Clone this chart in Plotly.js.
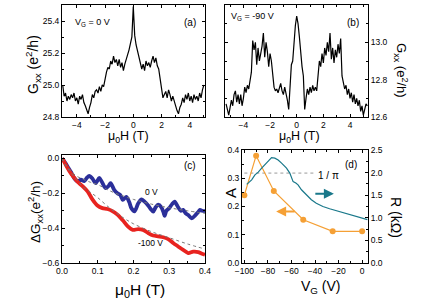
<!DOCTYPE html>
<html><head><meta charset="utf-8">
<script src="https://cdn.plot.ly/plotly-3.0.1.min.js"></script>
<style>html,body{margin:0;padding:0;background:#fff}#c{width:436px;height:300px}</style>
</head><body><div id="c"></div>
<script>
// Panel (a): Gxx vs mu0H at VG = 0 V
const hA = [-5.0,-4.9,-4.8,-4.7,-4.6,-4.5,-4.4,-4.3,-4.2,-4.1,-4.0,-3.9,-3.8,-3.7,-3.6,-3.5,-3.4,-3.3,-3.2,-3.1,-3.0,-2.9,-2.8,-2.7,-2.6,-2.5,-2.4,-2.3,-2.2,-2.1,-2.0,-1.9,-1.8,-1.7,-1.6,-1.5,-1.4,-1.3,-1.2,-1.1,-1.0,-0.9,-0.8,-0.7,-0.6,-0.5,-0.4,-0.3,-0.2,-0.1,0.0,
  0.1,0.2,0.3,0.4,0.5,0.6,0.7,0.8,0.9,1.0,1.1,1.2,1.3,1.4,1.5,1.6,1.7,1.8,1.9,2.0,2.1,2.2,2.3,2.4,2.5,2.6,2.7,2.8,2.9,3.0,3.1,3.2,3.3,3.4,3.5,3.6,3.7,3.8,3.9,4.0,4.1,4.2,4.3,4.4,4.5,4.6,4.7,4.8,4.9,5.0];
const gA = [25.00,24.93,24.95,24.90,24.93,24.91,24.94,24.92,24.95,24.90,24.92,24.88,24.93,24.91,24.94,24.89,24.87,24.85,24.82,24.86,24.89,24.94,24.92,24.96,24.97,24.95,24.99,24.96,25.00,24.99,25.05,25.08,25.11,25.10,25.15,25.13,25.18,25.14,25.16,25.12,25.16,25.11,25.14,25.09,25.13,25.17,25.19,25.22,25.26,25.30,25.49,
  25.31,25.25,25.21,25.18,25.14,25.10,25.13,25.09,25.15,25.12,25.14,25.11,25.15,25.18,25.14,25.17,25.12,25.10,25.04,24.98,24.92,24.94,24.96,24.92,24.97,24.94,24.90,24.93,24.89,24.87,24.84,24.82,24.86,24.88,24.92,24.89,24.94,24.91,24.95,24.90,24.93,24.89,24.94,24.91,24.93,24.90,24.95,24.92,24.97,25.00];

// Panel (b): Gxx vs mu0H at VG = -90 V
const hB = [-5.3,-5.2,-5.1,-5.0,-4.9,-4.8,-4.7,-4.6,-4.5,-4.4,-4.3,-4.2,-4.1,-4.0,-3.9,-3.8,-3.7,-3.6,-3.5,-3.4,-3.3,-3.2,-3.1,-3.0,-2.9,-2.8,-2.7,-2.6,-2.5,-2.4,-2.3,-2.2,-2.1,-2.0,-1.9,-1.8,-1.7,-1.6,-1.5,-1.4,-1.3,-1.2,-1.1,-1.0,-0.9,-0.8,-0.7,-0.6,-0.5,-0.4,-0.3,-0.2,-0.1,0.0,
  0.1,0.2,0.3,0.4,0.5,0.6,0.7,0.8,0.9,1.0,1.1,1.2,1.3,1.4,1.5,1.6,1.7,1.8,1.9,2.0,2.1,2.2,2.3,2.4,2.5,2.6,2.7,2.8,2.9,3.0,3.1,3.2,3.3,3.4,3.5,3.6,3.7,3.8,3.9,4.0,4.1,4.2,4.3,4.4,4.5,4.6,4.7,4.8,4.9,5.0,5.1,5.2,5.3];
const gB = [12.67,12.63,12.61,12.65,12.69,12.66,12.72,12.74,12.68,12.72,12.67,12.72,12.66,12.70,12.76,12.73,12.77,12.75,12.80,12.84,13.01,12.96,13.00,12.88,12.97,12.90,12.94,12.98,13.05,12.92,13.00,12.95,12.87,12.94,12.90,12.84,12.76,12.74,12.75,12.73,12.76,12.78,12.74,12.72,12.76,12.73,12.69,12.64,12.80,12.88,12.90,13.02,13.09,13.14,
  13.10,13.03,12.92,12.87,12.82,12.64,12.70,12.75,12.72,12.76,12.73,12.77,12.74,12.76,12.74,12.82,12.90,12.87,12.94,12.89,12.97,12.93,13.00,12.95,13.05,12.91,12.97,12.89,12.96,12.92,12.99,12.94,13.02,12.82,12.78,12.75,12.77,12.72,12.75,12.70,12.73,12.68,12.72,12.67,12.70,12.66,12.69,12.63,12.66,12.61,12.64,12.67,12.66];

// Panel (c): Delta Gxx vs mu0H
const hC0 = [0,0.005,0.011,0.018,0.025,0.034,0.044,0.053,0.062,0.07,0.076,0.085,0.094,0.104,0.111,0.122,0.13,0.136,0.146,0.155,0.163,0.17,0.18,0.188,0.194,0.203,0.213,0.222,0.231,0.241,0.248,0.255,0.262,0.269,0.278,0.284,0.287,0.292,0.3,0.308,0.315,0.325,0.332,0.339,0.346,0.353,0.363,0.372,0.38,0.386,0.392,0.4];
const dG0 = [0,-0.012,-0.03,-0.055,-0.078,-0.112,-0.132,-0.122,-0.13,-0.11,-0.1,-0.115,-0.142,-0.112,-0.132,-0.17,-0.158,-0.142,-0.18,-0.2,-0.21,-0.238,-0.22,-0.25,-0.285,-0.303,-0.258,-0.235,-0.248,-0.27,-0.29,-0.305,-0.28,-0.265,-0.28,-0.31,-0.33,-0.3,-0.285,-0.262,-0.248,-0.28,-0.3,-0.295,-0.315,-0.325,-0.343,-0.328,-0.31,-0.295,-0.3,-0.302];
const hC1 = [0,0.005,0.011,0.02,0.03,0.044,0.058,0.072,0.085,0.099,0.113,0.127,0.141,0.155,0.17,0.184,0.198,0.213,0.227,0.241,0.255,0.269,0.283,0.297,0.311,0.325,0.339,0.353,0.367,0.381,0.39,0.4];
const dG1 = [0,-0.015,-0.038,-0.07,-0.1,-0.135,-0.16,-0.19,-0.235,-0.27,-0.285,-0.29,-0.302,-0.322,-0.355,-0.39,-0.41,-0.405,-0.41,-0.428,-0.442,-0.447,-0.452,-0.463,-0.485,-0.505,-0.525,-0.543,-0.535,-0.537,-0.545,-0.553];
const hFit = [0,0.01,0.02,0.04,0.06,0.08,0.1,0.125,0.15,0.175,0.2,0.25,0.3,0.35,0.4];
const fit0 = [0,-0.035,-0.06,-0.1,-0.12,-0.137,-0.15,-0.177,-0.2,-0.218,-0.235,-0.262,-0.283,-0.3,-0.315];
const fit1 = [0,-0.04,-0.07,-0.12,-0.165,-0.195,-0.225,-0.27,-0.31,-0.345,-0.375,-0.42,-0.455,-0.49,-0.52];

// Panel (d): A and R vs VG
const vgA = [-100,-90,-75,-50,-25,0];
const aVals = [0.24,0.38,0.255,0.153,0.112,0.112];
const vgR = [-98,-95.8,-93.8,-91,-88.2,-85.3,-82.5,-79.7,-76.9,-74.1,-71.3,-68.4,-66.3,-64.2,-61.4,-58.6,-56.3,-54.4,-51.5,-47.3,-43.1,-38.9,-33.3,-27.6,-19.2,-10.7,-2.3,4.5];
const rVals = [1.74,1.79,1.84,1.95,2.01,2.10,2.17,2.24,2.33,2.32,2.28,2.21,2.16,2.10,1.99,1.80,1.77,1.73,1.62,1.51,1.40,1.32,1.25,1.20,1.14,1.07,1.01,0.96];
const piV = [-100,-40];
const piA = [0.3183,0.3183];

const W=436,H=300;
const FONT='"Liberation Sans", Arial, sans-serif';
function base(extra){
  return Object.assign({showline:true,linecolor:'#000',linewidth:1,ticks:'inside',ticklen:3,tickcolor:'#000',
    tickfont:{size:8.5,color:'#000',family:FONT},showgrid:false,zeroline:false},extra);
}
const traces = [
  {x:hA,y:gA,xaxis:'x',yaxis:'y',mode:'lines',line:{color:'#000',width:1.2}},
  {x:hB,y:gB,xaxis:'x2',yaxis:'y2',mode:'lines',line:{color:'#000',width:1.2}},
  {x:hC0,y:dG0,xaxis:'x3',yaxis:'y3',mode:'lines',line:{color:'#2b2f9a',width:3.8,shape:'spline',smoothing:0.8}},
  {x:hC1,y:dG1,xaxis:'x3',yaxis:'y3',mode:'lines',line:{color:'#e8231f',width:3.8,shape:'spline',smoothing:0.8}},
  {x:hFit,y:fit0,xaxis:'x3',yaxis:'y3',mode:'lines',line:{color:'#777',width:1,dash:'dot',shape:'spline'}},
  {x:hFit,y:fit1,xaxis:'x3',yaxis:'y3',mode:'lines',line:{color:'#777',width:1,dash:'dot',shape:'spline'}},
  {x:piV,y:piA,xaxis:'x4',yaxis:'y4',mode:'lines',line:{color:'#999',width:1,dash:'dot'}},
  {x:vgA,y:aVals,xaxis:'x4',yaxis:'y4',mode:'lines+markers',line:{color:'#f5a035',width:1.2},marker:{color:'#f5a035',size:6}},
  {x:vgR,y:rVals,xaxis:'x4',yaxis:'y5',mode:'lines',line:{color:'#19788a',width:1.2}}
];
function P(x,y){return {x:x/W,y:1-y/H,xref:'paper',yref:'paper',showarrow:false,xanchor:'center',yanchor:'middle'};}
function A(x,y,text,size,extra){return Object.assign(P(x,y),{text:text,font:{size:size,color:'#000',family:FONT}},extra||{});}
const ann = [
  A(33,65,'G<sub>xx</sub> (e<sup>2</sup>/h)',14,{textangle:-90}),
  A(401,70,'G<sub>xx</sub> (e<sup>2</sup>/h)',13,{textangle:90}),
  A(35,212,'ΔG<sub>xx</sub>(e<sup>2</sup>/h)',13.5,{textangle:-90}),
  A(230,193,'A',15,{textangle:-90}),
  A(396,217,'R (kΩ)',14,{textangle:90}),
  A(128,137,'μ<sub>0</sub>H (T)',12.5),
  A(299,137,'μ<sub>0</sub>H (T)',12.5),
  A(140,290,'μ<sub>0</sub>H (T)',15.5),
  A(321,287,'V<sub>G</sub> (V)',14),
  A(73,22,'V<sub>G</sub> = 0 V',9,{xanchor:'left'}),
  A(190,22,'(a)',10),
  A(229,17,'V<sub>G</sub> = -90 V',9,{xanchor:'left'}),
  A(353,22,'(b)',10),
  A(190,165,'(c)',10),
  A(151,192,'0 V',8.5),
  A(150,243,'-100 V',8.5),
  A(351,164,'(d)',10),
  A(328,175,'1 / π',10),
  {x:-24,y:1.53,xref:'x4',yref:'y5',ax:-41,ay:1.53,axref:'x4',ayref:'y5',showarrow:true,arrowhead:2,arrowsize:1,arrowwidth:2,arrowcolor:'#19788a',text:''},
  {x:-73,y:0.182,xref:'x4',yref:'y4',ax:-56,ay:0.182,axref:'x4',ayref:'y4',showarrow:true,arrowhead:2,arrowsize:1,arrowwidth:2,arrowcolor:'#f5a035',text:''}
];
const layout = {
  width:W,height:H,margin:{l:0,r:0,t:0,b:0},paper_bgcolor:'#fff',plot_bgcolor:'#fff',showlegend:false,
  font:{family:FONT,color:'#000'},
  xaxis:base({domain:[62/W,205/W],range:[-5.05,5.08],anchor:'y',mirror:'ticks',dtick:2,tick0:0,minor:{ticks:'inside',ticklen:2,dtick:1,tickcolor:'#000'}}),
  yaxis:base({domain:[1-117/H,1-5/H],range:[24.8,25.5],anchor:'x',mirror:'ticks',dtick:0.2,tick0:24.8,tickformat:'.1f',minor:{ticks:'inside',ticklen:2,dtick:0.1,tickcolor:'#000'}}),
  xaxis2:base({domain:[225/W,368/W],range:[-5.38,5.35],anchor:'y2',mirror:'ticks',dtick:2,tick0:0,minor:{ticks:'inside',ticklen:2,dtick:1,tickcolor:'#000'}}),
  yaxis2:base({domain:[1-117/H,1-5/H],range:[12.6,13.2],anchor:'x2',side:'right',mirror:'ticks',dtick:0.2,tick0:12.6,tickformat:'.1f',minor:{ticks:'inside',ticklen:2,dtick:0.1,tickcolor:'#000'}}),
  xaxis3:base({domain:[62/W,205/W],range:[0,0.4],anchor:'y3',mirror:'ticks',dtick:0.1,tick0:0,tickformat:'.1f',minor:{ticks:'inside',ticklen:2,dtick:0.05,tickcolor:'#000'}}),
  yaxis3:base({domain:[1-263/H,1-155/H],range:[-0.6,0.02],anchor:'x3',mirror:'ticks',dtick:0.2,tick0:0,tickformat:'.1f',minor:{ticks:'inside',ticklen:2,dtick:0.1,tickcolor:'#000'}}),
  xaxis4:base({domain:[242/W,368/W],range:[-102,5],anchor:'y4',mirror:'ticks',dtick:20,tick0:0,minor:{ticks:'inside',ticklen:2,dtick:10,tickcolor:'#000'}}),
  yaxis4:base({domain:[1-263/H,1-150/H],range:[0,0.4],anchor:'x4',dtick:0.1,tick0:0,tickformat:'.1f',minor:{ticks:'inside',ticklen:2,dtick:0.05,tickcolor:'#000'}}),
  yaxis5:base({domain:[1-263/H,1-150/H],range:[0,2.5],anchor:'x4',overlaying:'y4',side:'right',dtick:0.5,tick0:0,tickformat:'.1f',minor:{ticks:'inside',ticklen:2,dtick:0.25,tickcolor:'#000'}}),
  annotations:ann
};
Plotly.newPlot('c',traces,layout,{staticPlot:true,displayModeBar:false});
</script></body></html>
